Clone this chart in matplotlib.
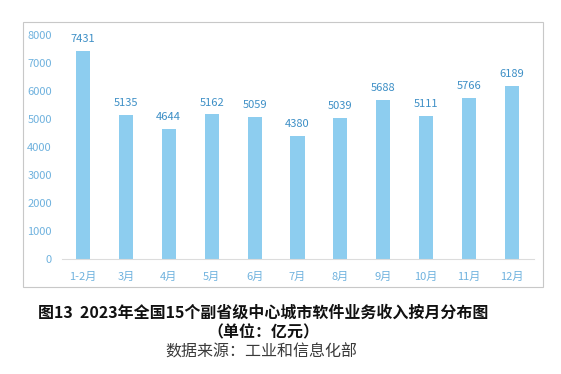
import matplotlib
matplotlib.use("Agg")
import matplotlib.pyplot as plt
from matplotlib.patches import Rectangle

plt.rcParams['font.family'] = ['Noto Sans CJK SC', 'DejaVu Sans']

months = ["1-2月", "3月", "4月", "5月", "6月", "7月", "8月", "9月", "10月", "11月", "12月"]
revenue = [7431, 5135, 4644, 5162, 5059, 4380, 5039, 5688, 5111, 5766, 6189]
yticks = [0, 1000, 2000, 3000, 4000, 5000, 6000, 7000, 8000]

bar_color = "#8dcdef"
tick_color = "#6fb2de"
label_color = "#3d8fc6"

fig = plt.figure(figsize=(5.61, 3.74), dpi=100)
fig.patch.set_facecolor("white")

# outer frame
fig.patches.append(Rectangle((23/561, 1-287/374), (543-23)/561, (287-22)/374,
                             transform=fig.transFigure, fill=False,
                             edgecolor="#c8c8c8", linewidth=0.8, zorder=0))

ax = fig.add_axes([61.5/561, 1-259/374, 472/561, 224/374])
x = list(range(len(months)))
ax.bar(x, revenue, width=0.33, color=bar_color, zorder=2)
ax.set_xlim(-0.5, len(months)-0.5)
ax.set_ylim(0, 8000)
ax.set_yticks(yticks)
ax.set_yticklabels([str(v) for v in yticks], color=tick_color, fontsize=8)
ax.set_xticks(x)
ax.set_xticklabels(months, color=tick_color, fontsize=8)
ax.tick_params(axis='both', length=0)
ax.tick_params(axis='y', pad=7)
ax.tick_params(axis='x', pad=9)
for s in ["top", "right", "left"]:
    ax.spines[s].set_visible(False)
ax.spines["bottom"].set_color("#dcdcdc")
ax.spines["bottom"].set_linewidth(0.8)
ax.set_facecolor("none")

for xi, v in zip(x, revenue):
    ax.annotate(str(v), (xi, v), xytext=(0, 5), textcoords="offset points",
                ha="center", va="bottom", fontsize=8, color=label_color)

fig.text(263/561, 1-313/374, "图13  2023年全国15个副省级中心城市软件业务收入按月分布图",
         ha="center", va="center", fontsize=11.5, fontweight="bold", color="#111111")
fig.text(263/561, 1-332/374, "（单位：亿元）", ha="center", va="center",
         fontsize=11.5, fontweight="bold", color="#111111")
fig.text(261/561, 1-352/374, "数据来源：工业和信息化部", ha="center", va="center",
         fontsize=11.5, color="#3a3a3a")

fig.savefig("out.png", dpi=100)
